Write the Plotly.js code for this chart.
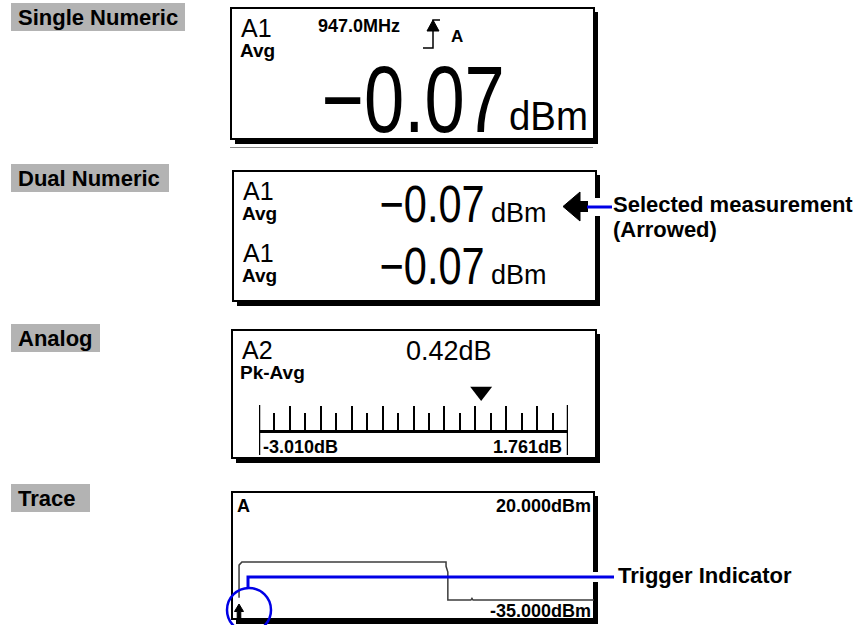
<!DOCTYPE html>
<html>
<head>
<meta charset="utf-8">
<script src="https://cdn.plot.ly/plotly-3.0.1.min.js"></script>
<style>html,body{margin:0;padding:0;background:#fff;}#chart{width:860px;height:625px;}</style>
</head>
<body>
<div id="chart"></div>
<script>
// ---------- data ----------
const panelLabels = ['Single Numeric', 'Dual Numeric', 'Analog ', 'Trace '];

const singleChannel = 'A1';
const singleMeasure = 'Avg';
const singleFreq = '947.0MHz';
const singleTrigChannel = 'A';
const singleReading = -0.07;
const singleUnit = 'dBm';

const dualChannels = ['A1', 'A1'];
const dualMeasures = ['Avg', 'Avg'];
const dualReadings = [-0.07, -0.07];
const dualUnit = 'dBm';

const analogChannel = 'A2';
const analogMeasure = 'Pk-Avg';
const analogValue = 0.42;
const analogUnit = 'dB';
const analogMin = -3.010;
const analogMax = 1.761;
const analogDivisions = 20;

const traceChannel = 'A';
const traceTop = 20.000;
const traceBottom = -35.000;
const traceUnit = 'dBm';
const traceTime  = [1.4,  1.4,  2.2,  58.9, 58.9,  59.4, 59.4, 65.8, 66.1,  66.4, 100];
const tracePower = [-25, -11.0, -9.6, -9.6, -11.5, -14.0, -26.0, -26.0, -25.3, -26.0, -26.0];

const calloutSelected = ['Selected measurement', '(Arrowed)'];
const calloutTrigger = 'Trigger Indicator';

// ---------- helpers ----------
const REG = 'Liberation Sans, Arial, Helvetica, sans-serif';
const BLUE = '#0000e6';
const fmtReading = v => (v < 0 ? '\u2212' : '') + Math.abs(v).toFixed(2);

const annotations = [];
const condense = [];   // annotations drawn in a narrowed (condensed) face
function txt(text, x, y, size, opts) {
  opts = opts || {};
  annotations.push(Object.assign({
    text: text, x: x, y: y, xref: 'x', yref: 'y', showarrow: false,
    xanchor: 'left', yanchor: 'middle', borderpad: 0,
    font: {family: REG, size: size, color: '#000', weight: opts.bold ? 'bold' : 'normal'}
  }, opts.extra || {}));
  if (opts.width) condense.push({index: annotations.length - 1, width: opts.width,
                                 pivot: (opts.extra && opts.extra.xanchor === 'right') ? 'right' : 'left'});
}

const shapes = [];
function box(x0, y0, x1, y1) {
  shapes.push({type: 'rect', xref: 'x', yref: 'y', x0: x0 + 4, y0: y0 + 4, x1: x1 + 4, y1: y1 + 5,
    fillcolor: '#000', line: {width: 0}, layer: 'below'});
  shapes.push({type: 'rect', xref: 'x', yref: 'y', x0: x0, y0: y0, x1: x1, y1: y1,
    fillcolor: '#fff', line: {color: '#000', width: 2}, layer: 'below'});
}
function rectFill(x0, y0, x1, y1, color, layer) {
  shapes.push({type: 'rect', xref: 'x', yref: 'y', x0: x0, y0: y0, x1: x1, y1: y1,
    fillcolor: color, line: {width: 0}, layer: layer || 'above'});
}
function path(d, color, width, fill) {
  shapes.push({type: 'path', xref: 'x', yref: 'y', path: d,
    line: {color: color, width: width}, fillcolor: fill || 'rgba(0,0,0,0)', layer: 'above'});
}

// ---------- left labels ----------
const labelBoxes = [[11, 3, 185, 31], [11, 164, 169, 192], [11, 324, 100, 352], [11, 484, 90, 512]];
panelLabels.forEach((t, i) => {
  const b = labelBoxes[i];
  rectFill(b[0], b[1], b[2], b[3], '#b3b3b3', 'below');
  txt(t, 17, (b[1] + b[3]) / 2 + 0.5, 22, {bold: true});
});

// ---------- panel 1: single numeric ----------
box(231, 8, 594, 139);
shapes.push({type: 'line', xref: 'x', yref: 'y', x0: 230, x1: 593, y0: 147.5, y1: 147.5,
  line: {color: '#8a8a8a', width: 1}, layer: 'below'});
txt(singleChannel, 240, 27.5, 25);
txt(singleMeasure, 239, 50.5, 19, {bold: true});
txt(singleFreq, 317, 26, 18, {bold: true});
path('M 423 48 H 433 V 20 H 440', '#000', 1.5);
path('M 433 20 L 427 31 L 439 31 Z', '#000', 1, '#000');
txt(singleTrigChannel, 450, 36, 17, {bold: true});
txt(fmtReading(singleReading), 506, 99, 94, {width: 183, extra: {xanchor: 'right'}});
txt(singleUnit, 508, 116, 40, {width: 79});

// ---------- panel 2: dual numeric ----------
box(233, 171, 596, 301);
dualReadings.forEach((v, i) => {
  const dy = i * 62;
  txt(dualChannels[i], 242, 190.5 + dy, 25);
  txt(dualMeasures[i], 241, 213 + dy, 19, {bold: true});
  txt(fmtReading(v), 486, 203.5 + dy, 52, {width: 105, extra: {xanchor: 'right'}});
  txt(dualUnit, 490, 212.5 + dy, 27);
});
path('M 563 206.5 L 580 192 L 580 221 Z', '#000', 1, '#000');
rectFill(579, 201, 588, 212, '#000');
rectFill(592, 198, 603, 216, '#fff');
path('M 587 207 H 612', BLUE, 3);
txt(calloutSelected[0], 612, 204, 22, {bold: true});
txt(calloutSelected[1], 612, 229, 22, {bold: true});

// ---------- panel 3: analog ----------
box(232, 330, 596, 458);
txt(analogChannel, 241, 349.5, 25);
txt(analogMeasure, 239, 372, 19, {bold: true});
txt(analogValue.toFixed(2) + analogUnit, 448.5, 351, 27, {extra: {xanchor: 'center'}});
[analogMin, analogMax].forEach(v => {
  shapes.push({type: 'line', xref: 'x2', yref: 'y', x0: v, x1: v, y0: 405, y1: 455,
    line: {color: '#000', width: 2.5}, layer: 'above'});
});
txt(analogMin.toFixed(3) + analogUnit, analogMin, 446.5, 18, {bold: true, extra: {xref: 'x2', xshift: 3}});
txt(analogMax.toFixed(3) + analogUnit, analogMax, 446.5, 18, {bold: true, extra: {xref: 'x2', xanchor: 'right', xshift: -5}});

// ---------- panel 4: trace ----------
box(232, 492, 594, 619);
txt(traceChannel, 236, 505.5, 18, {bold: true});
txt(traceTop.toFixed(3) + traceUnit, 592, 506, 18, {bold: true, extra: {xanchor: 'right'}});
txt(traceBottom.toFixed(3) + traceUnit, 592, 611, 18, {bold: true, extra: {xanchor: 'right'}});
path('M 239 604 L 234.5 611.5 L 237.2 611.5 L 237.2 618 L 240.8 618 L 240.8 611.5 L 243.5 611.5 Z', '#000', 1, '#000');
shapes.push({type: 'circle', xref: 'x', yref: 'y', x0: 227, x1: 271, y0: 588, y1: 632,
  line: {color: BLUE, width: 2.5}, fillcolor: 'rgba(0,0,0,0)', layer: 'above'});
rectFill(590, 572, 601, 582, '#fff');
path('M 248 589 V 577 H 614', BLUE, 3);
txt(calloutTrigger, 617, 575.5, 22, {bold: true});

// ---------- traces ----------
const data = [
  {x: [], y: [], xaxis: 'x', yaxis: 'y', type: 'scatter', mode: 'markers', showlegend: false},
  {x: [analogValue], y: [0.77], xaxis: 'x2', yaxis: 'y2', type: 'scatter', mode: 'markers',
   marker: {symbol: 'triangle-down', size: 19, color: '#000', line: {width: 0}},
   cliponaxis: false, showlegend: false, hoverinfo: 'skip'},
  {x: traceTime, y: tracePower, xaxis: 'x3', yaxis: 'y3', type: 'scatter', mode: 'lines',
   line: {color: '#3c3c3c', width: 1.5}, cliponaxis: false, showlegend: false, hoverinfo: 'skip'}
];

const hidden = {visible: false, fixedrange: true, showgrid: false, zeroline: false};
const span = (analogMax - analogMin);
const layout = {
  width: 860, height: 625,
  margin: {l: 0, r: 0, t: 0, b: 0},
  paper_bgcolor: '#fff', plot_bgcolor: 'rgba(0,0,0,0)',
  showlegend: false, hovermode: false,
  xaxis: Object.assign({}, hidden, {range: [0, 860], domain: [0, 1], anchor: 'y'}),
  yaxis: Object.assign({}, hidden, {range: [625, 0], domain: [0, 1], anchor: 'x'}),
  xaxis2: {domain: [259 / 860, 568 / 860], range: [analogMin, analogMax], anchor: 'y2',
    showline: true, linecolor: '#000', linewidth: 3, showgrid: false, zeroline: false,
    showticklabels: false, fixedrange: true,
    ticks: 'inside', ticklen: 24, tickwidth: 2, tickcolor: '#000',
    tickmode: 'linear', tick0: analogMin, dtick: span / (analogDivisions / 2),
    minor: {ticks: 'inside', ticklen: 17, tickwidth: 2, tickcolor: '#000',
            tickmode: 'linear', tick0: analogMin, dtick: span / analogDivisions, showgrid: false}},
  yaxis2: Object.assign({}, hidden, {domain: [(625 - 430) / 625, (625 - 380) / 625], range: [0, 1], anchor: 'x2'}),
  xaxis3: Object.assign({}, hidden, {domain: [234 / 860, 594 / 860], range: [0, 100], anchor: 'y3'}),
  yaxis3: Object.assign({}, hidden, {domain: [4 / 625, 132 / 625], range: [traceBottom, traceTop], anchor: 'x3'}),
  shapes: shapes,
  annotations: annotations
};

Plotly.newPlot('chart', data, layout, {displayModeBar: false, staticPlot: true}).then(gd => {
  // narrow the LCD-style readouts horizontally (condensed face), keeping them as real text
  condense.forEach(c => {
    const g = gd.querySelector('.annotation[data-index="' + c.index + '"]');
    if (!g) return;
    const t = g.querySelector('text.annotation-text');
    if (!t) return;
    const bb = t.getBBox();
    if (!bb.width) return;
    const s = c.width / bb.width;
    const px = c.pivot === 'right' ? bb.x + bb.width : bb.x;
    const prev = t.getAttribute('transform') || '';
    t.setAttribute('transform', 'translate(' + px + ',0) scale(' + s + ',1) translate(' + (-px) + ',0) ' + prev);
  });
});
</script>
</body>
</html>
